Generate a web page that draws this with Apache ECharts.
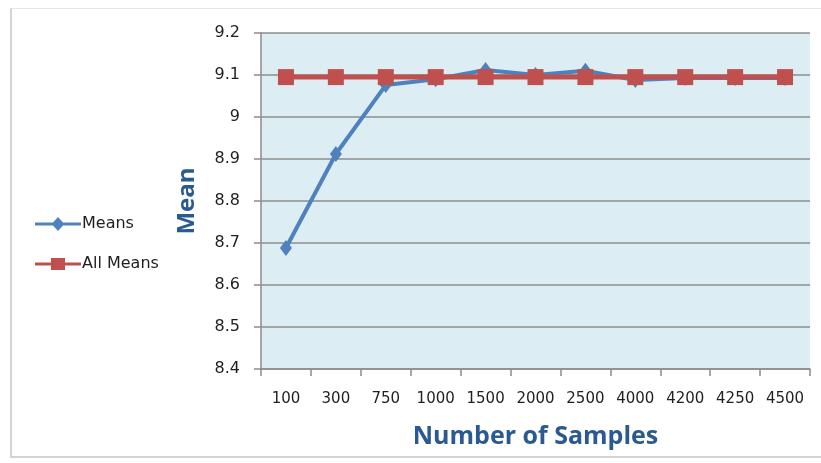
<!DOCTYPE html>
<html>
<head>
<meta charset="utf-8">
<script src="https://cdn.jsdelivr.net/npm/echarts@6/dist/echarts.min.js"></script>
<style>
  html, body { margin: 0; padding: 0; background: #ffffff; }
  #frame {
    position: absolute; left: 10px; top: 8px; width: 811px; height: 450px;
    border-left: 2px solid #d4d4d4; border-top: 1px solid #e6e6e6; border-bottom: 2px solid #d4d4d4;
    box-sizing: border-box;
  }
  #chart { position: absolute; left: 0; top: 0; width: 821px; height: 463px; }
</style>
</head>
<body>
<div id="frame"></div>
<div id="chart"></div>
<script>
// Sample sizes on the category axis
const sampleSizes = ['100', '300', '750', '1000', '1500', '2000', '2500', '4000', '4200', '4250', '4500'];
// Mean of each sample
const means = [8.688, 8.912, 9.076, 9.090, 9.112, 9.100, 9.110, 9.088, 9.093, 9.093, 9.093];
// Overall mean across all samples
const allMeans = [9.095, 9.095, 9.095, 9.095, 9.095, 9.095, 9.095, 9.095, 9.095, 9.095, 9.095];

const font = '"DejaVu Sans", "Noto Sans", sans-serif';
const titleFont = '"Open Sans", "Noto Sans", sans-serif';
const chart = echarts.init(document.getElementById('chart'), null, { renderer: 'canvas' });

chart.setOption({
  animation: false,
  backgroundColor: 'transparent',
  grid: { left: 261, right: 11, top: 33, bottom: 94, backgroundColor: '#dcedf4', show: true, borderWidth: 0 },
  legend: {
    orient: 'vertical',
    left: 30, top: 211,
    itemGap: 24,
    itemWidth: 46, itemHeight: 14,
    textStyle: { fontFamily: font, fontSize: 16, color: '#1f1f1f', padding: [0, 0, 0, -4] },
    data: [
      { name: 'Means', icon: 'path://M0,5.5 L18,5.5 L23,0 L28,5.5 L46,5.5 L46,8.5 L28,8.5 L23,14 L18,8.5 L0,8.5 Z' },
      { name: 'All Means', icon: 'path://M0,5.5 L16,5.5 L16,1 L30,1 L30,5.5 L46,5.5 L46,8.5 L30,8.5 L30,13 L16,13 L16,8.5 L0,8.5 Z' }
    ]
  },
  xAxis: {
    type: 'category',
    data: sampleSizes,
    boundaryGap: true,
    name: 'Number of Samples',
    nameLocation: 'middle',
    nameGap: 55,
    nameTextStyle: { fontFamily: titleFont, fontSize: 25, fontWeight: 'bold', color: '#2b5a92' },
    axisLine: { lineStyle: { color: '#8c8c8c', width: 1.5 } },
    axisTick: { show: true, length: 7, lineStyle: { color: '#8c8c8c', width: 1.5 } },
    axisLabel: { fontFamily: font, fontSize: 15, color: '#1f1f1f', margin: 23 }
  },
  yAxis: {
    type: 'value',
    min: 8.4, max: 9.2, interval: 0.1,
    name: 'Mean',
    nameLocation: 'middle',
    nameGap: 62,
    nameRotate: 90,
    nameTextStyle: { fontFamily: titleFont, fontSize: 24, fontWeight: 'bold', color: '#2b5a92' },
    axisLine: { show: true, lineStyle: { color: '#8c8c8c', width: 1.5 } },
    axisTick: { show: true, length: 7, lineStyle: { color: '#8c8c8c', width: 1.5 } },
    axisLabel: {
      fontFamily: font, fontSize: 16, color: '#1f1f1f', margin: 21,
      formatter: v => String(Math.round(v * 10) / 10)
    },
    splitLine: { lineStyle: { color: '#8c8c8c', width: 1.5 } }
  },
  series: [
    {
      name: 'Means', type: 'line', data: means,
      color: '#4f81bd',
      lineStyle: { width: 4, color: '#4f81bd' },
      symbol: 'diamond', symbolSize: [12, 16],
      itemStyle: { color: '#4f81bd' },
      z: 2
    },
    {
      name: 'All Means', type: 'line', data: allMeans,
      color: '#c0504d',
      lineStyle: { width: 5, color: '#c0504d' },
      symbol: 'rect', symbolSize: 16,
      itemStyle: { color: '#c0504d' },
      z: 3
    }
  ]
});
</script>
</body>
</html>
